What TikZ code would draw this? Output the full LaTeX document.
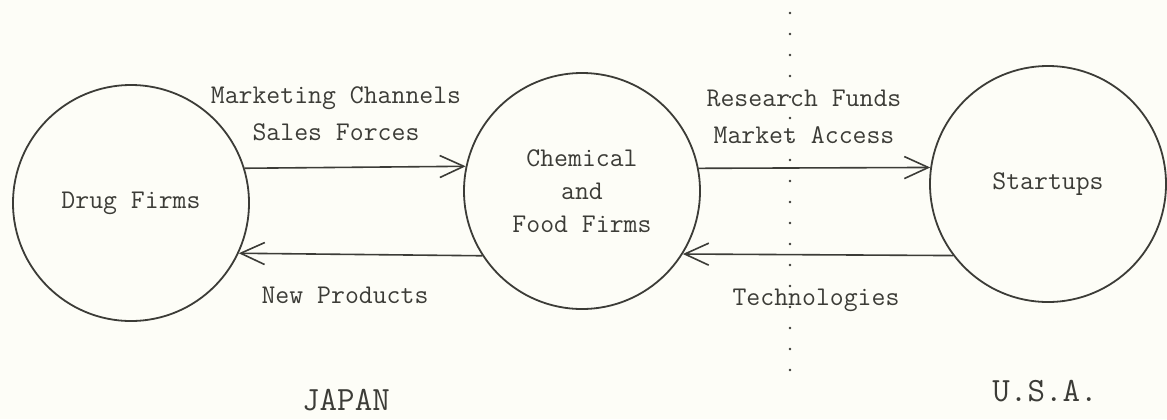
\documentclass[tikz,border=0pt]{standalone}
\usepackage{fontspec}
\usepackage{tikz}
\usetikzlibrary{arrows.meta}
\definecolor{fond}{RGB}{253,253,247}
\definecolor{trait}{RGB}{60,60,55}

\begin{document}
\begin{tikzpicture}[x=0.5pt,y=-0.5pt]
% Le fond fixe la taille de l'image
\fill[fond] (0,0) rectangle (1167,419);
\useasboundingbox (0,0) rectangle (1167,419);

% Les styles des objets
\tikzstyle{fleche}=[-{Straight Barb[length=12pt,width=11pt]},draw=trait,line width=0.8pt]
\tikzstyle{texte}=[text=trait,font=\ttfamily\fontsize{13.5}{16.5}\selectfont]
\tikzstyle{firme}=[texte,draw=trait,line width=0.9pt,circle,minimum size=118pt,inner sep=0pt,align=center]
\tikzstyle{etiquette}=[texte,align=center]
\tikzstyle{pays}=[text=trait,font=\ttfamily\fontsize{17}{20}\selectfont]

% La frontière entre les deux pays
\coordinate (haut) at (790,13);
\coordinate (bas) at (790,375);
\draw[trait,line width=1.3pt,line cap=round,dash pattern=on 0pt off 10.5pt] (haut) -- (bas);

% Les firmes
\foreach \x/\y/\nom/\texte in {131/203/drug/Drug Firms, 582/191/chem/Chemical\\and\\Food Firms,
                              1048/184/start/Startups}{
    \node[firme] (\nom) at (\x,\y) {\texte};
}

% Les échanges
\draw[fleche] (drug.17.3) -- (chem.168.8);
\draw[fleche] (chem.-147.7) -- (drug.-25.6);
\draw[fleche] (chem.11.2) -- (start.172.2);
\draw[fleche] (start.-143.6) -- (chem.-32.3);

\node[etiquette] (canaux) at (336,114) {Marketing Channels\\[2pt]Sales Forces};
\node[etiquette] (produits) at (345,295) {New Products};
\node[etiquette] (fonds) at (804,117) {Research Funds\\[2pt]Market Access};
\node[etiquette] (techno) at (816,300) {Technologies};

% Les pays
\node[pays] (japon) at (346,400) {JAPAN};
\node[pays] (usa) at (1045,391) {U.S.A.};
\end{tikzpicture}
\end{document}
